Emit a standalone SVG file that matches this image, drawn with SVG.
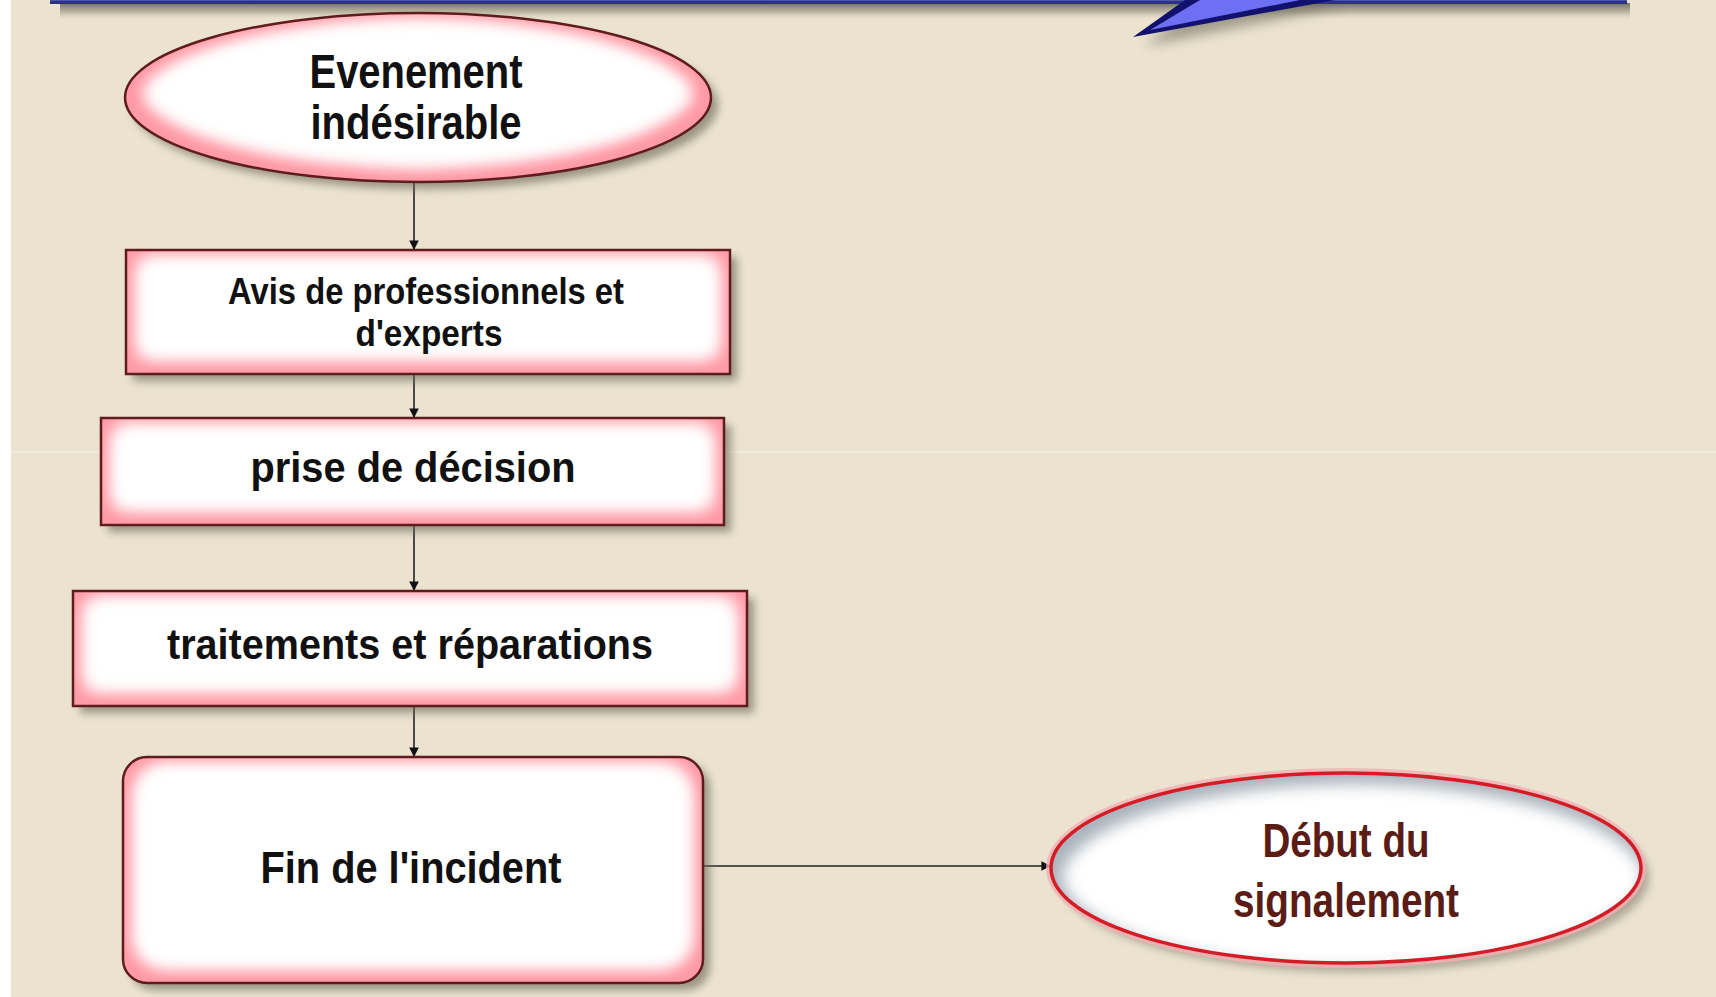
<svg xmlns="http://www.w3.org/2000/svg" width="1716" height="997" viewBox="0 0 1716 997">
  <defs>
    <style>
      .txt { font-family: "Liberation Sans", Arial, sans-serif; font-weight: bold; fill: #111; text-anchor: middle; }
      .txt2 { font-family: "Liberation Sans", Arial, sans-serif; font-weight: bold; fill: #5a1c14; text-anchor: middle; }
      .pink { fill: #ff9aa7; }
      .outline { fill: none; stroke: #5e1c1c; stroke-width: 2.5; }
      .shadow { fill: #6f6a5c; opacity: 0.65; }
      .conn { stroke: #222; stroke-width: 1.6; fill: none; }
    </style>
    <filter id="blur4" x="-20%" y="-30%" width="140%" height="160%">
      <feGaussianBlur stdDeviation="4"/>
    </filter>
    <filter id="blur6" x="-20%" y="-150%" width="140%" height="400%">
      <feGaussianBlur stdDeviation="6"/>
    </filter>
    <linearGradient id="bshade" x1="0" y1="0" x2="0" y2="1">
      <stop offset="0" stop-color="#5e5a4c" stop-opacity="0.85"/>
      <stop offset="0.5" stop-color="#8a8574" stop-opacity="0.5"/>
      <stop offset="1" stop-color="#ebe3d0" stop-opacity="0"/>
    </linearGradient>
    <filter id="inglow" x="0" y="0" width="100%" height="100%">
      <feMorphology in="SourceAlpha" operator="erode" radius="17" result="e"/>
      <feOffset in="e" dx="0" dy="-4" result="eo"/>
      <feGaussianBlur in="eo" stdDeviation="9" result="b"/>
      <feFlood flood-color="#ffffff"/>
      <feComposite in2="b" operator="in" result="w"/>
      <feComposite in="w" in2="SourceAlpha" operator="in" result="wc"/>
      <feMerge><feMergeNode in="SourceGraphic"/><feMergeNode in="wc"/><feMergeNode in="wc"/><feMergeNode in="wc"/></feMerge>
    </filter>
    <filter id="inshadow" x="0" y="0" width="100%" height="100%">
      <feMorphology in="SourceAlpha" operator="erode" radius="8" result="e"/>
      <feOffset in="e" dx="7" dy="9" result="eo"/>
      <feGaussianBlur in="eo" stdDeviation="9" result="b"/>
      <feFlood flood-color="#ffffff"/>
      <feComposite in2="b" operator="in" result="w"/>
      <feComposite in="w" in2="SourceAlpha" operator="in" result="wc"/>
      <feMerge><feMergeNode in="SourceGraphic"/><feMergeNode in="wc"/><feMergeNode in="wc"/></feMerge>
    </filter>
    <marker id="arr" viewBox="0 0 10 10" refX="10" refY="5" markerWidth="6" markerHeight="6" orient="auto" markerUnits="strokeWidth">
      <path d="M0,0 L10,5 L0,10 z" fill="#111"/>
    </marker>
  </defs>

  <!-- background -->
  <rect x="0" y="0" width="1716" height="997" fill="#ebe3d0"/>
  <rect x="0" y="0" width="11" height="997" fill="#ffffff"/>

  <!-- top banner with callout tail -->
  <g id="banner">
    <rect x="60" y="3" width="1570" height="18" fill="url(#bshade)"/>
    <path d="M1195,6 L1145,46 L1345,6 z" fill="#4a4638" opacity="0.45" filter="url(#blur6)"/>
    <rect x="50" y="-20" width="1577" height="24" fill="#2c3280"/>
    <rect x="50" y="-20" width="1577" height="21" fill="#4c55a8"/>
    <path d="M1185,0 L1133,37 L1335,0 z" fill="#12126e"/>
    <path d="M1200,0 L1150,30 L1300,0 z" fill="#6e70f4"/>
  </g>

  <!-- faint scan line -->
  <line x1="0" y1="452" x2="1716" y2="452" stroke="#ffffff" stroke-width="1" opacity="0.5"/>

  <!-- connectors -->
  <g id="connectors">
    <line class="conn" x1="414" y1="182" x2="414" y2="250" marker-end="url(#arr)"/>
    <line class="conn" x1="414" y1="374" x2="414" y2="418" marker-end="url(#arr)"/>
    <line class="conn" x1="414" y1="525" x2="414" y2="591" marker-end="url(#arr)"/>
    <line class="conn" x1="414" y1="706" x2="414" y2="757" marker-end="url(#arr)"/>
    <line class="conn" x1="703" y1="866" x2="1051" y2="866" marker-end="url(#arr)"/>
  </g>

  <!-- node 1 -->
  <g id="n1">
    <ellipse class="shadow" cx="425" cy="105" rx="293" ry="84" filter="url(#blur4)"/>
    <ellipse class="pink" cx="418" cy="97.5" rx="293" ry="84.5" filter="url(#inglow)"/>
    <ellipse class="outline" cx="418" cy="97.5" rx="293" ry="84.5"/>
    <text class="txt" x="416" y="88" font-size="48" textLength="213" lengthAdjust="spacingAndGlyphs">Evenement</text>
    <text class="txt" x="416" y="139" font-size="48" textLength="211" lengthAdjust="spacingAndGlyphs">indésirable</text>
  </g>

  <!-- node 2 -->
  <g id="n2">
    <rect class="shadow" x="133" y="257" width="604" height="124" filter="url(#blur4)"/>
    <rect class="pink" x="126" y="250" width="604" height="124" filter="url(#inglow)"/>
    <rect class="outline" x="126" y="250" width="604" height="124"/>
    <text class="txt" x="426" y="304" font-size="37" textLength="396" lengthAdjust="spacingAndGlyphs">Avis de professionnels et</text>
    <text class="txt" x="429" y="346" font-size="37" textLength="147" lengthAdjust="spacingAndGlyphs">d'experts</text>
  </g>

  <!-- node 3 -->
  <g id="n3">
    <rect class="shadow" x="108" y="425" width="623" height="107" filter="url(#blur4)"/>
    <rect class="pink" x="101" y="418" width="623" height="107" filter="url(#inglow)"/>
    <rect class="outline" x="101" y="418" width="623" height="107"/>
    <text class="txt" x="413" y="482" font-size="43" textLength="325" lengthAdjust="spacingAndGlyphs">prise de décision</text>
  </g>

  <!-- node 4 -->
  <g id="n4">
    <rect class="shadow" x="80" y="598" width="674" height="115" filter="url(#blur4)"/>
    <rect class="pink" x="73" y="591" width="674" height="115" filter="url(#inglow)"/>
    <rect class="outline" x="73" y="591" width="674" height="115"/>
    <text class="txt" x="410" y="659" font-size="43" textLength="486" lengthAdjust="spacingAndGlyphs">traitements et réparations</text>
  </g>

  <!-- node 5 -->
  <g id="n5">
    <rect class="shadow" x="130" y="764" width="580" height="226" rx="24" filter="url(#blur4)"/>
    <rect class="pink" x="123" y="757" width="580" height="226" rx="24" filter="url(#inglow)"/>
    <rect class="outline" x="123" y="757" width="580" height="226" rx="24"/>
    <text class="txt" x="411" y="883" font-size="45" textLength="301" lengthAdjust="spacingAndGlyphs">Fin de l'incident</text>
  </g>

  <!-- node 6 -->
  <g id="n6">
    <ellipse cx="1354" cy="877" rx="295" ry="95" fill="#7d7668" opacity="0.55" filter="url(#blur4)"/>
    <ellipse cx="1346" cy="868" rx="297" ry="97" fill="none" stroke="#f4b0b4" stroke-width="6" opacity="0.8"/>
    <ellipse cx="1346" cy="868" rx="295" ry="95" fill="#aab4be" filter="url(#inshadow)"/>
    <ellipse cx="1346" cy="868" rx="295" ry="95" fill="none" stroke="#d41c26" stroke-width="3.5"/>
    <text class="txt2" x="1346" y="857" font-size="49" textLength="167" lengthAdjust="spacingAndGlyphs">Début du</text>
    <text class="txt2" x="1346" y="917" font-size="49" textLength="226" lengthAdjust="spacingAndGlyphs">signalement</text>
  </g>
</svg>
